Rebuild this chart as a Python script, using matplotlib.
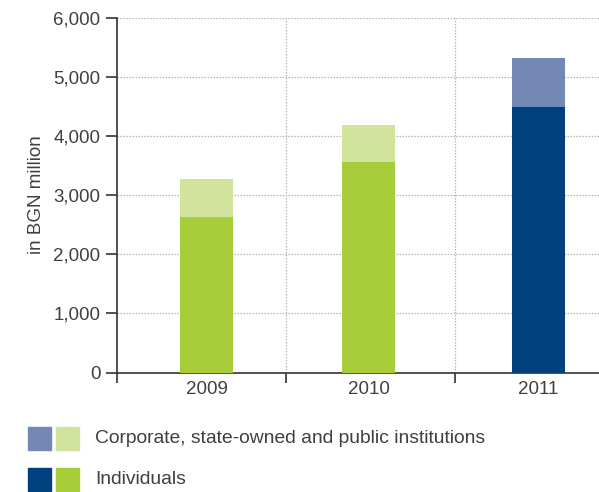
import matplotlib
matplotlib.use("Agg")
import matplotlib.pyplot as plt
from matplotlib.patches import Rectangle
from matplotlib.ticker import FuncFormatter

# deposits in BGN million
years = ["2009", "2010", "2011"]
individuals = [2630, 3565, 4490]
corporate = [640, 625, 830]

# green for earlier years, blue for the latest one
ind_colors = ["#a8cd3b", "#a8cd3b", "#00407f"]
corp_colors = ["#d1e39c", "#d1e39c", "#7388b5"]

text_col = "#404040"
fs = 13.5
plt.rcParams["font.family"] = ["Liberation Sans", "DejaVu Sans"]

fig = plt.figure(figsize=(5.99, 4.92), dpi=100)
ax = fig.add_axes([117 / 599, 1 - 372.5 / 492, 1 - 117 / 599, (372.5 - 17.7) / 492])

pos = [0.53, 1.488, 2.494]
ax.bar(pos, individuals, width=0.315, color=ind_colors, zorder=3)
ax.bar(pos, corporate, bottom=individuals, width=0.315, color=corp_colors, zorder=3)

ax.set_xlim(0, 482 / 169)
ax.set_ylim(0, 6000)

ax.set_yticks(range(0, 6001, 1000))
ax.yaxis.set_major_formatter(FuncFormatter(lambda v, p: f"{int(v):,}"))
ax.set_xticks([0, 1, 2])
ax.set_xticklabels([])
ax.set_xticks(pos, minor=True)
ax.set_xticklabels(years, minor=True)
ax.tick_params(axis="x", which="minor", length=0, pad=6, labelsize=fs, labelcolor=text_col)
ax.tick_params(axis="x", which="major", length=7, width=1.2, color="#333333", direction="out")
ax.tick_params(axis="y", length=8, width=1.2, color="#333333", pad=4, labelsize=fs, labelcolor=text_col)

for spine in ["top", "right"]:
    ax.spines[spine].set_visible(False)
for spine in ["left", "bottom"]:
    ax.spines[spine].set_linewidth(1.2)
    ax.spines[spine].set_color("#333333")

for v in range(1000, 6001, 1000):
    ax.axhline(v, color="#b5b5b5", linestyle=(0, (1.2, 1.2)), linewidth=0.9, zorder=1)
for x in [1, 2]:
    ax.axvline(x, color="#b5b5b5", linestyle=(0, (1.2, 1.2)), linewidth=0.9, zorder=1)

ax.set_ylabel("in BGN million", fontsize=fs, color=text_col, labelpad=6)

# legend drawn as coloured squares with text
W, H = 599, 492
sq = 23
rows = [(427, ["#7388b5", "#d1e39c"], "Corporate, state-owned and public institutions"),
        (468, ["#00407f", "#a8cd3b"], "Individuals")]
for top, cols, label in rows:
    for i, c in enumerate(cols):
        x0 = 28 + i * 28
        fig.patches.append(Rectangle((x0 / W, 1 - (top + sq) / H), sq / W, sq / H,
                                     transform=fig.transFigure, color=c))
    fig.text(95 / W, 1 - (top + sq / 2) / H, label, fontsize=13.9, color=text_col,
             va="center", ha="left")

fig.savefig("out.png", dpi=100)
